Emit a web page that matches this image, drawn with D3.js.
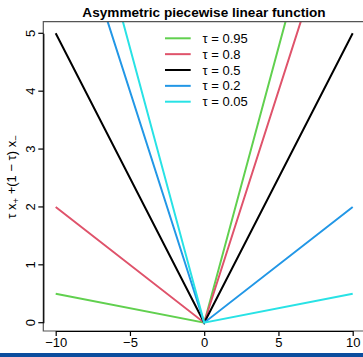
<!DOCTYPE html>
<head>
    <meta charset="utf-8">
    <script src="https://cdn.jsdelivr.net/npm/d3@7"></script>
    <style>
        body { margin: 0; background: white; }
        svg { display: block; font-family: "Liberation Sans", Arial, sans-serif; }
        .tick text { font-size: 13px; fill: black; }
    </style>
</head>
<body>
    <script>
        // data
        var xPoints = [-10, 0, 10];
        var tauLabels = ["0.95", "0.8", "0.5", "0.2", "0.05"];
        var seriesValues = [
            [0.5, 0, 9.5],
            [2, 0, 8],
            [5, 0, 5],
            [8, 0, 2],
            [9.5, 0, 0.5]
        ];
        var seriesColors = ["#61D04F", "#DF536B", "#000000", "#2297E6", "#28E2E5"];
        var xTicks = [-10, -5, 0, 5, 10];
        var yTicks = [0, 1, 2, 3, 4, 5];

        var width = 363, height = 357;

        var svg = d3.select("body").append("svg")
            .attr("width", width)
            .attr("height", height);

        var x = d3.scaleLinear().domain([-10, 10]).range([55.7, 352.7]);
        var y = d3.scaleLinear().domain([0, 5]).range([322.7, 33.3]);

        var boxLeft = 43.3, boxRight = x(10.8), boxTop = 21.7, boxBottom = 331;

        svg.append("clipPath").attr("id", "plotArea")
            .append("rect")
            .attr("x", boxLeft).attr("y", boxTop)
            .attr("width", boxRight - boxLeft).attr("height", boxBottom - boxTop);

        var line = d3.line()
            .x(function (d, i) { return x(xPoints[i]); })
            .y(function (d) { return y(d); });

        svg.append("g").attr("clip-path", "url(#plotArea)")
            .selectAll("path")
            .data(seriesValues)
            .enter().append("path")
            .attr("d", line)
            .attr("fill", "none")
            .attr("stroke", function (d, i) { return seriesColors[i]; })
            .attr("stroke-width", 2);

        // box (left, top, bottom)
        svg.append("path")
            .attr("d", "M" + boxRight + "," + boxTop + "H" + boxLeft + "V" + boxBottom + "H" + boxRight)
            .attr("fill", "none")
            .attr("stroke", "#555")
            .attr("stroke-width", 1.2);

        var xAxis = d3.axisBottom(x).tickValues(xTicks).tickSize(5).tickSizeOuter(0)
            .tickFormat(function (d) { return d < 0 ? "\u2212" + Math.abs(d) : d; });
        var gx = svg.append("g").attr("transform", "translate(0," + boxBottom + ")").call(xAxis);
        gx.selectAll("text").attr("dy", "0.71em").attr("y", 7);

        var yAxis = d3.axisLeft(y).tickValues(yTicks).tickSize(5).tickSizeOuter(0)
            .tickFormat(d3.format("d"));
        var gy = svg.append("g").attr("transform", "translate(" + boxLeft + ",0)").call(yAxis);
        gy.selectAll("text")
            .attr("x", 0).attr("y", 0).attr("dy", "0.35em")
            .attr("text-anchor", "middle")
            .attr("transform", function (d) { return "translate(-13," + y(d) + ") rotate(-90)"; });
        gy.selectAll(".tick").attr("transform", null);
        gy.selectAll(".tick line").attr("transform", function (d) { return "translate(0," + y(d) + ")"; });

        svg.selectAll(".domain").attr("stroke", "black").attr("stroke-width", 1.2);
        svg.selectAll(".tick line").attr("stroke", "black").attr("stroke-width", 1.2);

        // title
        svg.append("text")
            .attr("x", 204).attr("y", 17)
            .attr("text-anchor", "middle")
            .attr("font-size", "13.6px")
            .attr("font-weight", "bold")
            .text("Asymmetric piecewise linear function");

        // y label
        var yl = svg.append("text")
            .attr("transform", "translate(16,177) rotate(-90)")
            .attr("text-anchor", "middle")
            .attr("font-size", "13px");
        yl.append("tspan").text("\u03C4 x");
        yl.append("tspan").attr("font-size", "9.5px").attr("dy", 3).text("+");
        yl.append("tspan").attr("dy", -3).text(" +(1 \u2212 \u03C4) x");
        yl.append("tspan").attr("font-size", "9.5px").attr("dy", 3).text("\u2212");

        // legend
        var legend = svg.append("g").selectAll("g")
            .data(tauLabels)
            .enter().append("g")
            .attr("transform", function (d, i) { return "translate(0," + (38.3 + i * 15.85) + ")"; });
        legend.append("line")
            .attr("x1", 165).attr("x2", 190.7)
            .attr("stroke", function (d, i) { return seriesColors[i]; })
            .attr("stroke-width", 2);
        legend.append("text")
            .attr("x", 202.5).attr("dy", "0.35em")
            .attr("font-size", "13px")
            .text(function (d) { return "\u03C4 = " + d; });

        // bottom strip
        svg.append("rect")
            .attr("x", 0).attr("y", 353).attr("width", width).attr("height", 4)
            .attr("fill", "#0b4d9e");
    </script>
</body>
